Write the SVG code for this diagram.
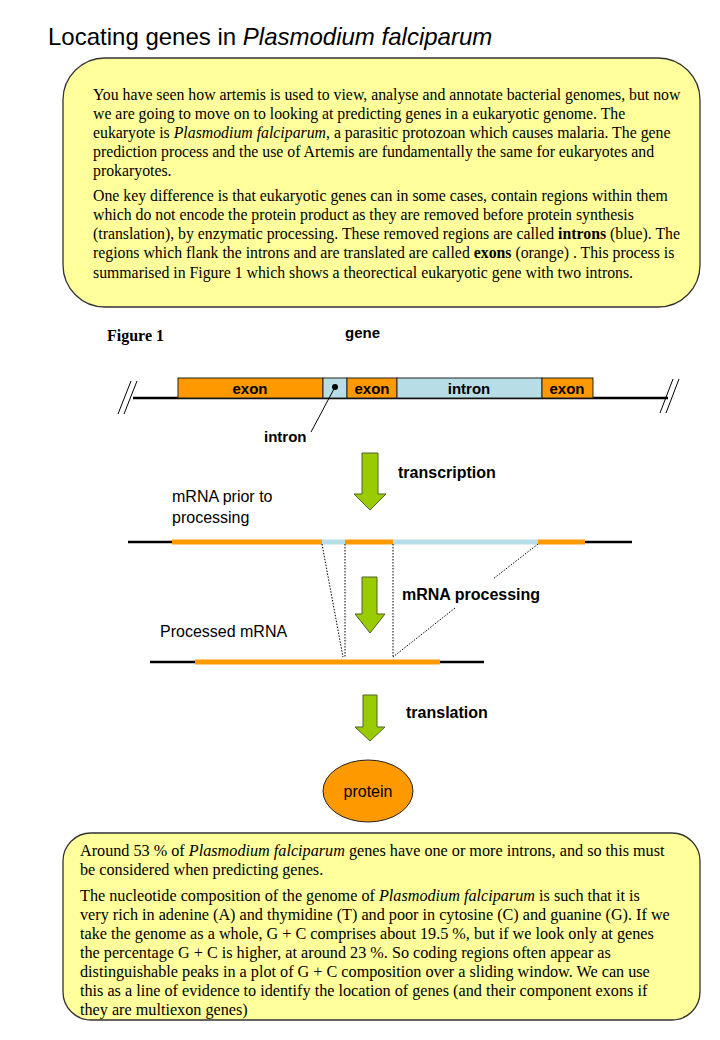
<svg xmlns="http://www.w3.org/2000/svg" width="720" height="1040" viewBox="0 0 720 1040">
<defs>
<style>
.title{font-family:"Liberation Sans",Arial,sans-serif;font-size:24px;fill:#000}
.body{font-family:"Liberation Serif","Times New Roman",serif;font-size:15.8px;fill:#000}
.body2{font-family:"Liberation Serif","Times New Roman",serif;font-size:16.2px;fill:#000}
.box{fill:#FFFF9C;stroke:#333;stroke-width:1.3}
.lab{font-family:"Liberation Sans",Arial,sans-serif;font-size:16px;fill:#000}
.blab{font-family:"Liberation Sans",Arial,sans-serif;font-size:16px;font-weight:bold;fill:#000}
.glab{font-family:"Liberation Sans",Arial,sans-serif;font-size:15px;font-weight:bold;fill:#000}
.exon{fill:#FF9900;stroke:#222;stroke-width:1}
.intron{fill:#B7DDE6;stroke:#222;stroke-width:1}
.arrow{fill:#99CC00;stroke:#4F6228;stroke-width:1}
.dot{stroke:#000;stroke-width:1;stroke-dasharray:1.5 1.5;fill:none}
</style>
</defs>
<rect width="720" height="1040" fill="#fff"/>
<text class="title" x="48" y="45">Locating genes in <tspan font-style="italic">Plasmodium falciparum</tspan></text>

<g id="intro-box">
<rect class="box" x="63" y="58" width="637" height="249" rx="42" ry="42"/>
<text class="body" x="93" y="100">You have seen how artemis is used to view, analyse and annotate bacterial genomes, but now</text>
<text class="body" x="93" y="119">we are going to move on to looking at predicting genes in a  eukaryotic genome. The</text>
<text class="body" x="93" y="138">eukaryote is <tspan font-style="italic">Plasmodium falciparum</tspan>, a parasitic protozoan which causes malaria. The gene</text>
<text class="body" x="93" y="157">prediction process and the use of Artemis are fundamentally the same for eukaryotes and</text>
<text class="body" x="93" y="176">prokaryotes.</text>
<text class="body" x="93" y="201">One key difference is that eukaryotic genes can in some cases, contain regions within them</text>
<text class="body" x="93" y="220">which do not encode the protein product as they are removed before protein synthesis</text>
<text class="body" x="93" y="239">(translation), by enzymatic processing. These removed regions are called <tspan font-weight="bold">introns</tspan> (blue). The</text>
<text class="body" x="93" y="258">regions which flank the introns and are translated are called <tspan font-weight="bold">exons</tspan> (orange) . This process is</text>
<text class="body" x="93" y="278">summarised in Figure 1 which shows a theorectical eukaryotic gene with two introns.</text>
</g>

<g id="figure-label">
<text x="107" y="341" font-family="'Liberation Serif','Times New Roman',serif" font-size="16" font-weight="bold">Figure 1</text>
</g>
<g id="gene-label"><text class="glab" x="345" y="338">gene</text></g>

<g id="gene">
<line x1="133" y1="398" x2="668" y2="398" stroke="#000" stroke-width="2.5"/>
<line x1="118" y1="414" x2="131" y2="381" stroke="#000" stroke-width="1"/>
<line x1="124" y1="414" x2="137" y2="381" stroke="#000" stroke-width="1"/>
<line x1="660" y1="413" x2="673" y2="379" stroke="#000" stroke-width="1"/>
<line x1="666" y1="413" x2="679" y2="379" stroke="#000" stroke-width="1"/>
<rect class="exon" x="178" y="378" width="145" height="20"/>
<rect class="intron" x="323" y="378" width="24" height="20"/>
<rect class="exon" x="347" y="378" width="50" height="20"/>
<rect class="intron" x="397" y="378" width="145" height="20"/>
<rect class="exon" x="542" y="378" width="51" height="20"/>
<text class="glab" x="250" y="394" text-anchor="middle">exon</text>
<text class="glab" x="372" y="394" text-anchor="middle">exon</text>
<text class="glab" x="469" y="394" text-anchor="middle">intron</text>
<text class="glab" x="567" y="394" text-anchor="middle">exon</text>
<circle cx="335" cy="387" r="3" fill="#000"/>
<line x1="335" y1="387" x2="311" y2="432" stroke="#000" stroke-width="1"/>
<text class="glab" x="264" y="442">intron</text>
</g>

<g id="arrow-transcription">
<polygon class="arrow" points="362,453 378,453 378,494 386,494 370,510 354,494 362,494"/>
<text class="blab" x="398" y="478">transcription</text>
</g>

<g id="mrna-pre">
<text class="lab" x="172" y="502">mRNA prior to</text>
<text class="lab" x="172" y="523">processing</text>
<line x1="128" y1="542" x2="632" y2="542" stroke="#000" stroke-width="2.5"/>
<line x1="172" y1="542" x2="322" y2="542" stroke="#FF9900" stroke-width="5"/>
<line x1="322" y1="542" x2="345" y2="542" stroke="#B7DDE6" stroke-width="5"/>
<line x1="345" y1="542" x2="393" y2="542" stroke="#FF9900" stroke-width="5"/>
<line x1="393" y1="542" x2="538" y2="542" stroke="#B7DDE6" stroke-width="5"/>
<line x1="538" y1="542" x2="585" y2="542" stroke="#FF9900" stroke-width="5"/>
</g>

<g id="connectors">
<line class="dot" x1="322" y1="544" x2="343" y2="657"/>
<line class="dot" x1="345" y1="544" x2="345" y2="657"/>
<line class="dot" x1="393" y1="544" x2="393" y2="657"/>
<line class="dot" x1="538" y1="544" x2="493" y2="579"/>
<line class="dot" x1="455" y1="608" x2="393" y2="657"/>
</g>

<g id="arrow-processing">
<polygon class="arrow" points="362,577 377,577 377,614 385,614 370,633 355,614 362,614"/>
<text class="blab" x="402" y="600">mRNA processing</text>
</g>

<g id="mrna-processed">
<text class="lab" x="160" y="637">Processed mRNA</text>
<line x1="150" y1="662" x2="484" y2="662" stroke="#000" stroke-width="2.5"/>
<line x1="195" y1="662" x2="440" y2="662" stroke="#FF9900" stroke-width="5"/>
</g>

<g id="arrow-translation">
<polygon class="arrow" points="363,695 377,695 377,727 385,727 370,741 355,727 363,727"/>
<text class="blab" x="406" y="718">translation</text>
</g>

<g id="protein">
<ellipse cx="368" cy="791" rx="45" ry="31" fill="#FF9900" stroke="#222" stroke-width="1"/>
<text class="lab" x="368" y="797" text-anchor="middle">protein</text>
</g>

<g id="summary-box">
<rect class="box" x="63" y="833" width="637" height="187" rx="28" ry="28"/>
<text class="body2" x="80" y="856">Around 53 % of <tspan font-style="italic">Plasmodium falciparum</tspan> genes have one or more introns, and so this must</text>
<text class="body2" x="80" y="875">be considered when predicting genes.</text>
<text class="body2" x="80" y="901">The nucleotide composition of the genome of <tspan font-style="italic">Plasmodium falciparum</tspan> is such that it is</text>
<text class="body2" x="80" y="920">very rich in adenine (A) and thymidine (T) and poor in cytosine (C) and guanine (G). If we</text>
<text class="body2" x="80" y="939">take the genome as a whole, G + C comprises about 19.5 %, but if we look only at genes</text>
<text class="body2" x="80" y="958">the percentage G + C is higher, at around 23 %. So coding regions often appear as</text>
<text class="body2" x="80" y="977">distinguishable peaks in a plot of G + C composition over a sliding window. We can use</text>
<text class="body2" x="80" y="996">this as a line of evidence to identify the location of genes (and their component exons if</text>
<text class="body2" x="80" y="1015">they are multiexon genes)</text>
</g>
</svg>
